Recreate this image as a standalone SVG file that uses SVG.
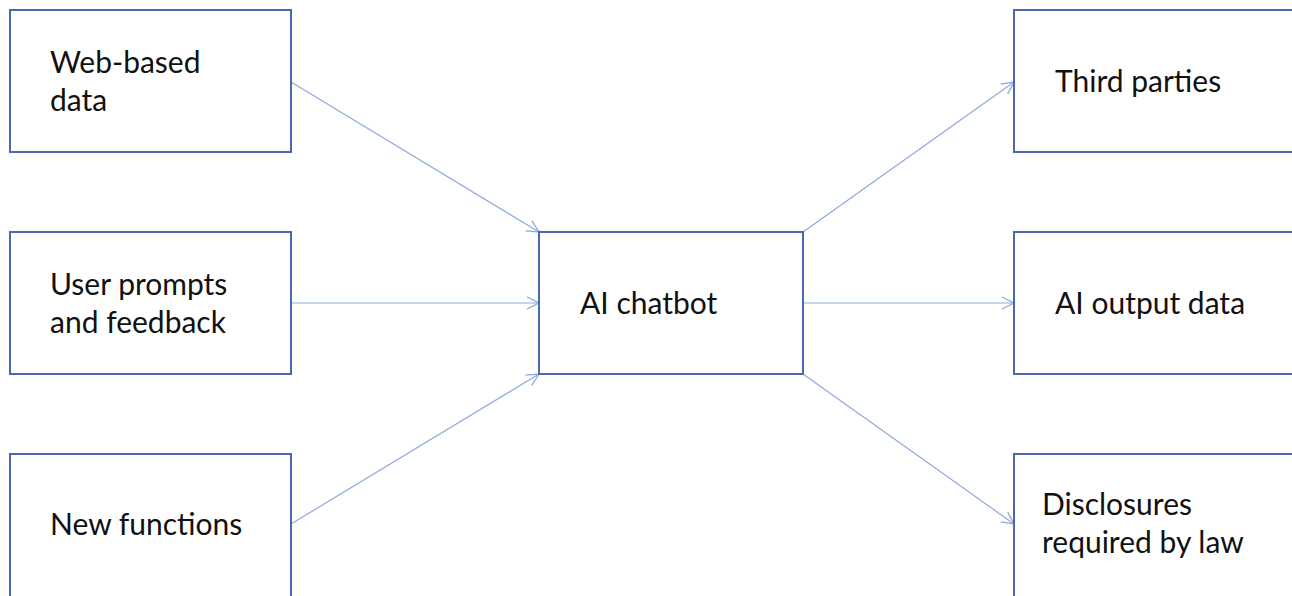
<svg xmlns="http://www.w3.org/2000/svg" width="1292" height="596" viewBox="0 0 1292 596">
  <style>
    .box { fill: #ffffff; stroke: #4a68ad; stroke-width: 2; }
    .lbl { font-family: Lato, "Open Sans", "Liberation Sans", sans-serif; font-size: 30px; fill: #111111; }
    .edge { stroke: #8eaadb; stroke-width: 1.2; fill: none; marker-end: url(#chev); }
  </style>
  <defs>
    <marker id="chev" viewBox="0 0 14 14" refX="13" refY="7" markerWidth="14" markerHeight="14" markerUnits="userSpaceOnUse" orient="auto">
      <path d="M1,1 L13,7 L1,13" fill="none" stroke="#8eaadb" stroke-width="1.3"/>
    </marker>
  </defs>
  <rect width="1292" height="596" fill="#ffffff"/>

  <g id="connectors">
    <line class="edge" x1="291" y1="82" x2="539" y2="232"/>
    <line class="edge" x1="291" y1="303" x2="539" y2="303"/>
    <line class="edge" x1="291" y1="524" x2="539" y2="374"/>
    <line class="edge" x1="803" y1="232" x2="1014" y2="82"/>
    <line class="edge" x1="803" y1="303" x2="1014" y2="303"/>
    <line class="edge" x1="803" y1="374" x2="1014" y2="524"/>
  </g>

  <g id="web-data">
    <rect class="box" x="10" y="10" width="281" height="142"/>
    <text class="lbl" x="50" y="73">Web-based</text>
    <text class="lbl" x="50" y="111">data</text>
  </g>
  <g id="user-prompts">
    <rect class="box" x="10" y="232" width="281" height="142"/>
    <text class="lbl" x="50" y="295">User prompts</text>
    <text class="lbl" x="50" y="333">and feedback</text>
  </g>
  <g id="new-functions">
    <rect class="box" x="10" y="454" width="281" height="150"/>
    <text class="lbl" x="50" y="535">New functions</text>
  </g>
  <g id="ai-chatbot">
    <rect class="box" x="539" y="232" width="264" height="142"/>
    <text class="lbl" x="580" y="314">AI chatbot</text>
  </g>
  <g id="third-parties">
    <rect class="box" x="1014" y="10" width="290" height="142"/>
    <text class="lbl" x="1055" y="92">Third parties</text>
  </g>
  <g id="ai-output">
    <rect class="box" x="1014" y="232" width="290" height="142"/>
    <text class="lbl" x="1055" y="314">AI output data</text>
  </g>
  <g id="disclosures">
    <rect class="box" x="1014" y="454" width="290" height="150"/>
    <text class="lbl" x="1042" y="515">Disclosures</text>
    <text class="lbl" x="1042" y="553">required by law</text>
  </g>
</svg>
